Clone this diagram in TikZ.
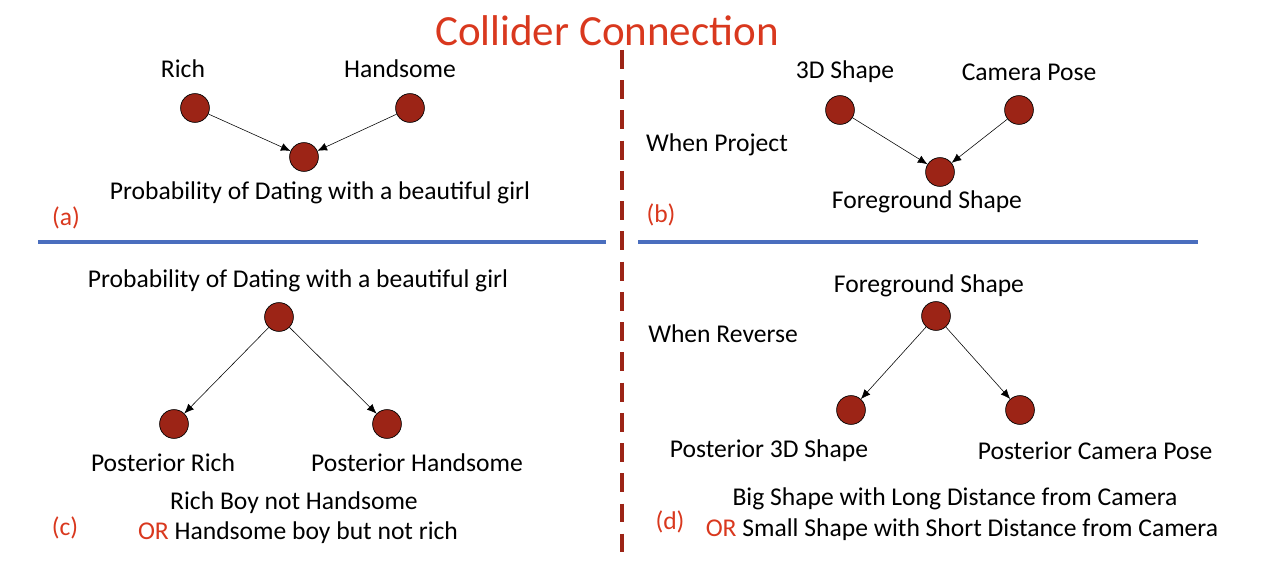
\documentclass[tikz,border=0pt]{standalone}
\usepackage{fontspec}
\setmainfont{Carlito}
\usetikzlibrary{arrows.meta}
\definecolor{nodered}{HTML}{9C2416}
\definecolor{titlered}{HTML}{D9381E}
\definecolor{lineblue}{HTML}{4A6EBE}
\begin{document}
\begin{tikzpicture}[x=0.025cm,y=-0.025cm,
  var/.style={circle,draw=black,fill=nodered,line width=0.5pt,minimum size=0.72cm,inner sep=0pt},
  lbl/.style={font=\fontsize{18.2}{21}\selectfont},
  tag/.style={font=\fontsize{18.2}{21}\selectfont,text=titlered},
  edge/.style={-{Latex[length=2.4mm,width=2mm]},line width=0.4pt}]
\useasboundingbox (0,0) rectangle (1266,563);
\node[font=\fontsize{30.6}{34}\selectfont,text=titlered] (title) at (607,31) {Collider Connection};
% separators
\draw[nodered,line width=3.2pt,dash pattern=on 13.5pt off 8pt] (622,50) -- (622,552);
\draw[lineblue,line width=3pt] (38,242) -- (606,242);
\draw[lineblue,line width=3pt] (638,242) -- (1198,242);
% (a)
\node[var] (rich) at (195,108) {};
\node[var] (hand) at (410,108) {};
\node[var] (date) at (304,157) {};
\node[lbl] at (183,69) {Rich};
\node[lbl] at (400,69) {Handsome};
\node[lbl] at (320,193) {Probability of Dating with a beautiful girl};
\node[tag] at (66,218) {(a)};
\draw[edge] (rich) -- (date);
\draw[edge] (hand) -- (date);
% (b)
\node[var] (shape) at (840,110) {};
\node[var] (pose) at (1019,110) {};
\node[var] (fg) at (940,172) {};
\node[lbl] at (845,72) {3D Shape};
\node[lbl] at (1029,72) {Camera Pose};
\node[lbl] at (927,202) {Foreground Shape};
\node[lbl] at (717,145) {When Project};
\node[tag] at (661,215) {(b)};
\draw[edge] (shape) -- (fg);
\draw[edge] (pose) -- (fg);
% (c)
\node[var] (date2) at (279,317) {};
\node[var] (prich) at (174,424) {};
\node[var] (phand) at (387,424) {};
\node[lbl] at (298,281) {Probability of Dating with a beautiful girl};
\node[lbl] at (163,463) {Posterior Rich};
\node[lbl] at (417,463) {Posterior Handsome};
\node[lbl] at (294,503) {Rich Boy not Handsome};
\node[lbl] at (298,533) {\textcolor{titlered}{OR} Handsome boy but not rich};
\node[tag] at (65,528) {(c)};
\draw[edge] (date2) -- (prich);
\draw[edge] (date2) -- (phand);
% (d)
\node[var] (fg2) at (936,316) {};
\node[var] (pshape) at (851,410) {};
\node[var] (ppose) at (1020,410) {};
\node[lbl] at (929,286) {Foreground Shape};
\node[lbl] at (769,451) {Posterior 3D Shape};
\node[lbl] at (1095,451) {Posterior Camera Pose};
\node[lbl] at (723,334) {When Reverse};
\node[lbl] at (955,499) {Big Shape with Long Distance from Camera};
\node[lbl] at (962,530) {\textcolor{titlered}{OR} Small Shape with Short Distance from Camera};
\node[tag] at (670,522) {(d)};
\draw[edge] (fg2) -- (pshape);
\draw[edge] (fg2) -- (ppose);
\end{tikzpicture}
\end{document}
